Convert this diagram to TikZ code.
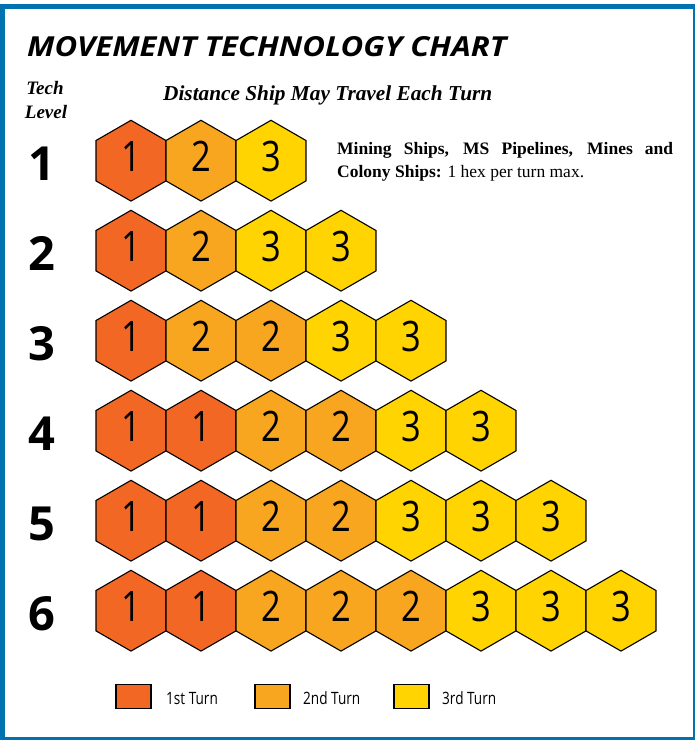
\documentclass[tikz,border=0pt]{standalone}
\usepackage{fontspec}
\setmainfont{Liberation Serif}
\newfontfamily\osans{Open Sans}
\usetikzlibrary{shapes.geometric}
\definecolor{frameblue}{RGB}{0,114,176}
\definecolor{turnA}{RGB}{243,103,36}
\definecolor{turnB}{RGB}{248,165,31}
\definecolor{turnC}{RGB}{255,212,0}
\begin{document}
\begin{tikzpicture}[x=1pt,y=-1pt,
  hexcell/.style={regular polygon, regular polygon sides=6, shape border rotate=30,
    minimum size=80.8pt, inner sep=0pt, outer sep=0pt, draw=black, line width=1.1pt},
  hexnum/.style={inner sep=0pt, font=\osans\fontsize{42}{42}\selectfont},
  rowlabel/.style={inner sep=0pt, font=\osans\bfseries\fontsize{47}{47}\selectfont},
  legbox/.style={rectangle, draw=black, line width=1.1pt, minimum width=35pt, minimum height=24pt, inner sep=0pt},
  legtext/.style={anchor=base west, inner sep=0pt, font=\osans\fontsize{17}{17}\selectfont},
  headtext/.style={inner sep=0pt, font=\bfseries\itshape\fontsize{19}{19}\selectfont}
]
\useasboundingbox (0,0) rectangle (696,740);
\fill[frameblue] (0,4) rectangle (695,740);
\fill[white] (5,9) rectangle (693,737);

% title
\node[anchor=base west, inner sep=0pt] (title) at (27,56)
  {\resizebox{479pt}{20pt}{\osans\bfseries\itshape MOVEMENT TECHNOLOGY CHART}};
\node[headtext, anchor=base] (tech) at (45,94) {Tech};
\node[headtext, anchor=base] (level) at (46,118) {Level};
\node[anchor=base west, inner sep=0pt] (dist) at (163,100)
  {\resizebox{329pt}{!}{\bfseries\itshape\fontsize{19}{19}\selectfont Distance Ship May Travel Each Turn}};
\node[anchor=north west, inner sep=0pt] (note) at (337,142)
  {\parbox[t]{336pt}{\fontsize{17.5}{23}\selectfont\noindent\textbf{Mining Ships, MS Pipelines, Mines and}\linebreak \textbf{Colony Ships:} 1 hex per turn max.}};

% hex rows
\foreach \r/\list in {1/{1,2,3},2/{1,2,3,3},3/{1,2,2,3,3},4/{1,1,2,2,3,3},5/{1,1,2,2,3,3,3},6/{1,1,2,2,2,3,3,3}} {
  \pgfmathsetmacro{\ry}{160.7+90*(\r-1)}
  \node[rowlabel] (row\r) at (42,\ry+3) {\r};
  \foreach \t [count=\c] in \list {
    \ifcase\t\or\def\hc{turnA}\or\def\hc{turnB}\or\def\hc{turnC}\fi
    \node[hexcell, fill=\hc] (h\r-\c) at ({131+70*(\c-1)},\ry) {};
    \node[hexnum] (n\r-\c) at ([yshift=4.5pt]h\r-\c.center) {\scalebox{0.82}[1]{\t}};
  }
}

% legend
\node[legbox, fill=turnA] (lgA) at (133.5,696.3) {};
\node[legtext] (ltA) at (166,704) {\scalebox{0.8}[1]{1st Turn}};
\node[legbox, fill=turnB] (lgB) at (272.5,696.3) {};
\node[legtext] (ltB) at (303,704) {\scalebox{0.8}[1]{2nd Turn}};
\node[legbox, fill=turnC] (lgC) at (411.5,696.3) {};
\node[legtext] (ltC) at (442,704) {\scalebox{0.8}[1]{3rd Turn}};
\end{tikzpicture}
\end{document}
